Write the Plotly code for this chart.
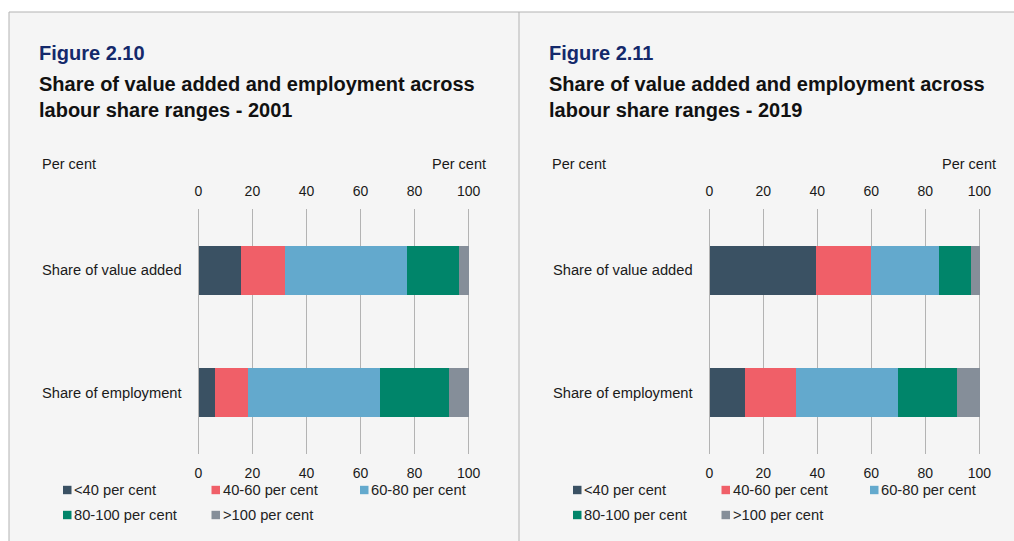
import plotly.graph_objects as go

# ---- data -------------------------------------------------------------
categories = ["Share of value added", "Share of employment"]
ranges = ["<40 per cent", "40-60 per cent", "60-80 per cent", "80-100 per cent", ">100 per cent"]
colors = ["#3A5163", "#F05F68", "#63A9CD", "#00856A", "#858E99"]

# share (per cent) in each labour-share range: [value added, employment]
shares_2001 = {
    "<40 per cent": [15.8, 5.9],
    "40-60 per cent": [16.2, 12.2],
    "60-80 per cent": [45.1, 49.0],
    "80-100 per cent": [19.0, 25.5],
    ">100 per cent": [3.9, 7.4],
}
shares_2019 = {
    "<40 per cent": [39.3, 13.2],
    "40-60 per cent": [20.6, 18.8],
    "60-80 per cent": [25.2, 37.9],
    "80-100 per cent": [11.5, 21.6],
    ">100 per cent": [3.4, 8.5],
}
tick_vals = [0, 20, 40, 60, 80, 100]
# some padding so the 0 and 100 gridlines are not clipped at the range ends
axis_range = [-1.0, 101.0]

W, H = 1014, 541


def fx(x):
    return x / W


def fy(y):
    return 1 - y / H


def domain(px0, px100):
    """paper domain whose 0 and 100 values land on the given pixel columns"""
    k = (px100 - px0) / 100.0
    return [fx(px0 + axis_range[0] * k), fx(px0 + axis_range[1] * k)]


fig = go.Figure()

panels = [
    dict(data=shares_2001, xa="x", ya="y", xtop="x3", x0=9, fig_no="Figure 2.10", year="2001"),
    dict(data=shares_2019, xa="x2", ya="y2", xtop="x4", x0=519, fig_no="Figure 2.11", year="2019"),
]

for p in panels:
    for name, col in zip(ranges, colors):
        fig.add_trace(go.Bar(
            y=categories, x=p["data"][name], name=name, orientation="h",
            marker=dict(color=col, line=dict(width=0)), width=0.4,
            xaxis=p["xa"], yaxis=p["ya"], showlegend=False,
        ))
    # invisible carrier so the duplicated top axis gets drawn
    fig.add_trace(go.Scatter(
        x=[tick_vals[0], tick_vals[-1]], y=categories, mode="markers", marker=dict(opacity=0),
        xaxis=p["xtop"], yaxis=p["ya"], showlegend=False, hoverinfo="skip",
    ))

ydom = [fy(454), fy(209)]
axis_font = dict(family="Liberation Sans, Arial, sans-serif", size=14, color="#1a1a1a")
common_x = dict(range=axis_range, tickvals=tick_vals, showgrid=True, gridcolor="#b3b3b3",
                gridwidth=1, zeroline=False, showline=False, ticks="",
                tickfont=axis_font, ticklabelstandoff=9, fixedrange=True, automargin=False)
common_y = dict(type="category", range=[1.5, -0.5], showgrid=False, zeroline=False,
                showline=False, ticks="", tickfont=dict(axis_font, size=14.7),
                ticklabelstandoff=13, domain=ydom, fixedrange=True, automargin=False)

dom_left = domain(198.3, 468.7)
dom_right = domain(709.3, 979.3)
fig.update_layout(
    xaxis=dict(common_x, domain=dom_left, anchor="y", side="bottom"),
    xaxis2=dict(common_x, domain=dom_right, anchor="y2", side="bottom"),
    xaxis3=dict(common_x, domain=dom_left, overlaying="x", side="top", showgrid=False, anchor="y"),
    xaxis4=dict(common_x, domain=dom_right, overlaying="x2", side="top", showgrid=False, anchor="y2"),
    yaxis=dict(common_y, anchor="x"),
    yaxis2=dict(common_y, anchor="x2"),
)

shapes = []
annotations = []

# panel background and rules
shapes.append(dict(type="rect", xref="paper", yref="paper", x0=fx(9), x1=1, y0=0, y1=fy(12),
                   fillcolor="#F5F5F5", line=dict(width=0), layer="below"))
for (x0, y0, x1, y1) in [(9, 12, W, 12), (9, 12, 9, H), (519, 12, 519, H)]:
    shapes.append(dict(type="line", xref="paper", yref="paper", x0=fx(x0), x1=fx(x1),
                       y0=fy(y0), y1=fy(y1), line=dict(color="#B3B3B3", width=1), layer="below"))

title_font = "Liberation Sans, Arial, sans-serif"
for p in panels:
    ox = p["x0"] - 9
    annotations += [
        dict(text=f"<b>{p['fig_no']}</b>", x=fx(37 + ox), y=fy(53), xanchor="left", yanchor="middle",
             font=dict(family=title_font, size=20, color="#14296B")),
        dict(text="<b>Share of value added and employment across</b>", x=fx(37 + ox), y=fy(83.5),
             xanchor="left", yanchor="middle", font=dict(family=title_font, size=20, color="#111111")),
        dict(text=f"<b>labour share ranges - {p['year']}</b>", x=fx(37 + ox), y=fy(110),
             xanchor="left", yanchor="middle", font=dict(family=title_font, size=20, color="#111111")),
        dict(text="Per cent", x=fx(40 + ox), y=fy(164), xanchor="left", yanchor="middle",
             font=dict(axis_font, size=14.5)),
        dict(text="Per cent", x=fx(488 + ox), y=fy(164), xanchor="right", yanchor="middle",
             font=dict(axis_font, size=14.5)),
    ]
    # legend: swatch + label for each range, rows of three
    for i, (name, col) in enumerate(zip(ranges, colors)):
        row, c = divmod(i, 3)
        sx = 63 + ox + c * 148.5
        sy = 490 + row * 25
        shapes.append(dict(type="rect", xref="paper", yref="paper",
                           x0=fx(sx), x1=fx(sx + 8.5), y0=fy(sy + 4.2), y1=fy(sy - 4.2),
                           fillcolor=col, line=dict(width=0)))
        annotations.append(dict(text=name, x=fx(sx + 9), y=fy(sy), xanchor="left", yanchor="middle",
                                font=dict(family=title_font, size=14.7, color="#222222")))

for a in annotations:
    a.update(xref="paper", yref="paper", showarrow=False)

fig.update_layout(
    width=W, height=H, margin=dict(l=0, r=0, t=0, b=0, autoexpand=False),
    paper_bgcolor="white", plot_bgcolor="rgba(0,0,0,0)",
    barmode="stack", bargap=0, showlegend=False,
    shapes=shapes, annotations=annotations,
    font=dict(family=title_font),
)

fig.write_html("out.html", config=dict(displayModeBar=False))
